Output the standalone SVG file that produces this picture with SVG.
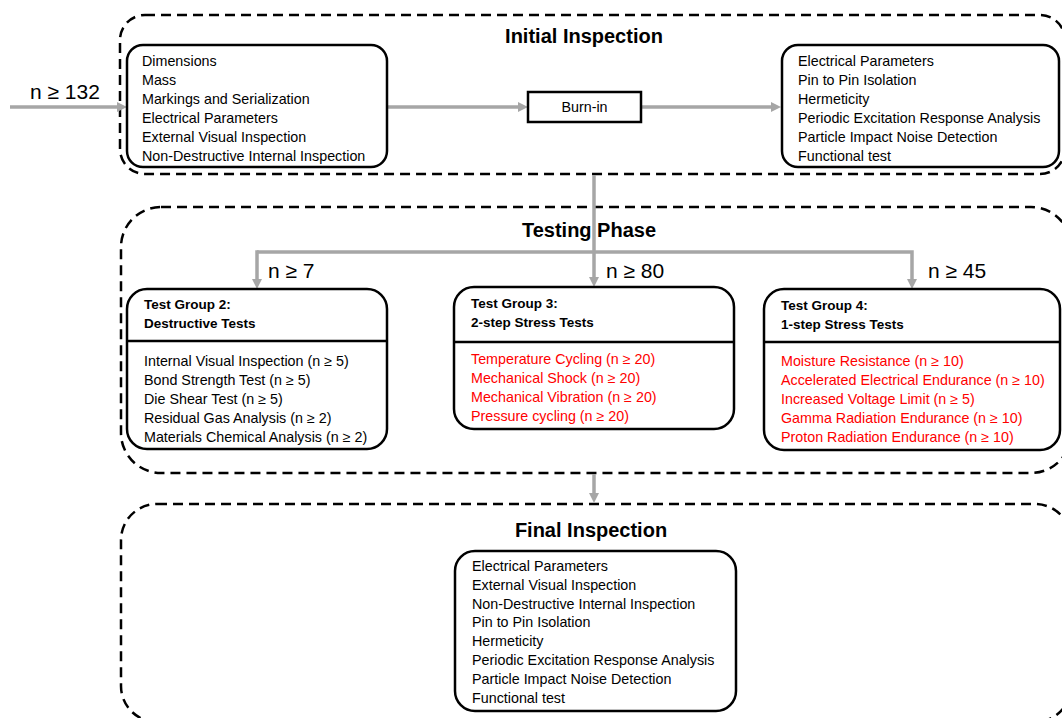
<svg xmlns="http://www.w3.org/2000/svg" width="1062" height="718" viewBox="0 0 1062 718">
<style>
.dash{fill:none;stroke:#000;stroke-width:2.5;stroke-dasharray:10 6}
.box{fill:#fff;stroke:#000;stroke-width:2.5}
.conn{fill:none;stroke:#a6a6a6;stroke-width:3.5}
.t{font-family:"Liberation Sans",Arial,sans-serif;font-size:14.3px;fill:#000}
.r{fill:#ff0000}
.h{font-family:"Liberation Sans",Arial,sans-serif;font-size:13.5px;font-weight:bold;fill:#000}
.title{font-family:"Liberation Sans",Arial,sans-serif;font-size:20px;font-weight:bold;fill:#000;text-anchor:middle}
.n{font-family:"Liberation Sans",Arial,sans-serif;font-size:21px;fill:#000}
</style>
<defs>
<marker id="ah" viewBox="0 0 10 10" markerWidth="10" markerHeight="10" markerUnits="userSpaceOnUse" refX="1" refY="5" orient="auto">
<path d="M0,0 L10,5 L0,10 z" fill="#a6a6a6"/>
</marker>
</defs>
<rect width="1062" height="718" fill="#fff"/>

<g id="initial-inspection">
<rect class="dash" x="120" y="15" width="945" height="159" rx="25"/>
<text class="title" x="584" y="43">Initial Inspection</text>
</g>
<g id="testing-phase">
<rect class="dash" x="121" y="207" width="950" height="266" rx="40"/>
</g>
<g id="final-inspection">
<rect class="dash" x="121" y="504" width="950" height="218" rx="36"/>
<text class="title" x="591" y="537">Final Inspection</text>
</g>

<g id="connectors">
<line class="conn" x1="10" y1="107" x2="118" y2="107" marker-end="url(#ah)"/>
<line class="conn" x1="387" y1="107" x2="519" y2="107" marker-end="url(#ah)"/>
<line class="conn" x1="641" y1="107" x2="772" y2="107" marker-end="url(#ah)"/>
<line class="conn" x1="594" y1="175" x2="594" y2="278" marker-end="url(#ah)"/>
<polyline class="conn" points="257,252 912,252 912,280" marker-end="url(#ah)"/>
<line class="conn" x1="257" y1="250.25" x2="257" y2="280" marker-end="url(#ah)"/>
<line class="conn" x1="594" y1="474" x2="594" y2="494" marker-end="url(#ah)"/>
</g>

<text class="title" x="589" y="237">Testing Phase</text>
<text class="n" x="30" y="99">n ≥ 132</text>
<text class="n" x="268" y="278">n ≥ 7</text>
<text class="n" x="606" y="278">n ≥ 80</text>
<text class="n" x="928" y="278">n ≥ 45</text>

<g id="pre-burnin">
<rect class="box" x="127" y="45" width="260" height="122" rx="16"/>
<text class="t" x="142" y="66">Dimensions</text>
<text class="t" x="142" y="85">Mass</text>
<text class="t" x="142" y="104">Markings and Serialization</text>
<text class="t" x="142" y="123">Electrical Parameters</text>
<text class="t" x="142" y="142">External Visual Inspection</text>
<text class="t" x="142" y="161">Non-Destructive Internal Inspection</text>
</g>

<g id="burn-in">
<rect class="box" x="528" y="92" width="113" height="30"/>
<text class="t" x="584.5" y="112" text-anchor="middle">Burn-in</text>
</g>

<g id="post-burnin">
<rect class="box" x="782" y="45" width="277" height="122" rx="16"/>
<text class="t" x="798" y="66">Electrical Parameters</text>
<text class="t" x="798" y="85">Pin to Pin Isolation</text>
<text class="t" x="798" y="104">Hermeticity</text>
<text class="t" x="798" y="123">Periodic Excitation Response Analysis</text>
<text class="t" x="798" y="142">Particle Impact Noise Detection</text>
<text class="t" x="798" y="161">Functional test</text>
</g>

<g id="test-group-2">
<rect class="box" x="127" y="289" width="260" height="160" rx="20"/>
<line x1="127" y1="341" x2="387" y2="341" stroke="#000" stroke-width="2.5"/>
<text class="h" x="144" y="309">Test Group 2:</text>
<text class="h" x="144" y="328">Destructive Tests</text>
<text class="t" x="144" y="366">Internal Visual Inspection (n ≥ 5)</text>
<text class="t" x="144" y="385">Bond Strength Test (n ≥ 5)</text>
<text class="t" x="144" y="404">Die Shear Test (n ≥ 5)</text>
<text class="t" x="144" y="423">Residual Gas Analysis (n ≥ 2)</text>
<text class="t" x="144" y="442">Materials Chemical Analysis (n ≥ 2)</text>
</g>

<g id="test-group-3">
<rect class="box" x="454" y="287" width="280" height="142" rx="20"/>
<line x1="454" y1="342" x2="734" y2="342" stroke="#000" stroke-width="2.5"/>
<text class="h" x="471" y="308">Test Group 3:</text>
<text class="h" x="471" y="327">2-step Stress Tests</text>
<text class="t r" x="471" y="364">Temperature Cycling (n ≥ 20)</text>
<text class="t r" x="471" y="383">Mechanical Shock (n ≥ 20)</text>
<text class="t r" x="471" y="402">Mechanical Vibration (n ≥ 20)</text>
<text class="t r" x="471" y="421">Pressure cycling (n ≥ 20)</text>
</g>

<g id="test-group-4">
<rect class="box" x="764" y="289" width="296" height="161" rx="20"/>
<line x1="764" y1="342" x2="1060" y2="342" stroke="#000" stroke-width="2.5"/>
<text class="h" x="781" y="310">Test Group 4:</text>
<text class="h" x="781" y="329">1-step Stress Tests</text>
<text class="t r" x="781" y="366">Moisture Resistance (n ≥ 10)</text>
<text class="t r" x="781" y="385">Accelerated Electrical Endurance (n ≥ 10)</text>
<text class="t r" x="781" y="404">Increased Voltage Limit (n ≥ 5)</text>
<text class="t r" x="781" y="423">Gamma Radiation Endurance (n ≥ 10)</text>
<text class="t r" x="781" y="442">Proton Radiation Endurance (n ≥ 10)</text>
</g>

<g id="final-checks">
<rect class="box" x="455" y="551" width="281" height="160" rx="20"/>
<text class="t" x="472" y="571">Electrical Parameters</text>
<text class="t" x="472" y="590">External Visual Inspection</text>
<text class="t" x="472" y="608.5">Non-Destructive Internal Inspection</text>
<text class="t" x="472" y="627">Pin to Pin Isolation</text>
<text class="t" x="472" y="646">Hermeticity</text>
<text class="t" x="472" y="665">Periodic Excitation Response Analysis</text>
<text class="t" x="472" y="683.5">Particle Impact Noise Detection</text>
<text class="t" x="472" y="702.5">Functional test</text>
</g>
</svg>
